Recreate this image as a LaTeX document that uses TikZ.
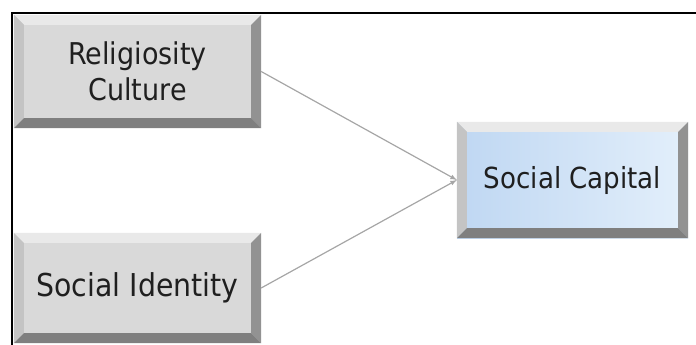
\documentclass[tikz,border=0pt]{standalone}
\usepackage{fontspec}
\setmainfont{DejaVu Sans Condensed}
\usepackage{tikz}
\usetikzlibrary{shapes,arrows,backgrounds,positioning,fit}

\definecolor{boxface}{HTML}{D9D9D9}
\definecolor{boxlight}{HTML}{E9E9E9}
\definecolor{boxside}{HTML}{C4C4C4}
\definecolor{boxdark}{HTML}{7F7F7F}
\definecolor{capleft}{HTML}{BFD7F2}
\definecolor{capright}{HTML}{E3EFFB}
\definecolor{linkgray}{HTML}{A6A6A6}

% bevel edges drawn over a named box
\newcommand{\bevel}[1]{%
  \fill[boxlight] (#1.north west) -- (#1.north east) -- ([shift={(-10,10)}]#1.north east) -- ([shift={(10,10)}]#1.north west) -- cycle;
  \fill[boxside] (#1.north west) -- ([shift={(10,10)}]#1.north west) -- ([shift={(10,-10)}]#1.south west) -- (#1.south west) -- cycle;
  \fill[boxdark!85] (#1.north east) -- ([shift={(-10,10)}]#1.north east) -- ([shift={(-10,-10)}]#1.south east) -- (#1.south east) -- cycle;
  \fill[boxdark] (#1.south west) -- ([shift={(10,-10)}]#1.south west) -- ([shift={(-10,-10)}]#1.south east) -- (#1.south east) -- cycle;
}

\begin{document}
\begin{tikzpicture}[x=1pt,y=-1pt]
			\tikzstyle{Box}		= [rectangle, inner sep=0pt, align=center, text=black!88]
			\tikzstyle{Grey}	= [fill=boxface]
			\tikzstyle{Blue}	= [left color=capleft, right color=capright]
			\tikzstyle{Link}	= [linkgray, line width=1.2pt, -latex]
			
			\useasboundingbox (0,0) rectangle (696,345);
			\draw [line width=2pt] (12,345) -- (12,13) -- (696,13);
			
			\node (rel) at (137.5,71.5) [Box][Grey][minimum width=247, minimum height=113] {};
			\node (soc) at (137.5,288) [Box][Grey][minimum width=247, minimum height=110] {};
			\node (cap) at (572.5,180) [Box][Blue][minimum width=231, minimum height=116] {};
			\bevel{rel}
			\bevel{soc}
			\bevel{cap}
			
			\node (relt) at (rel) [Box, font=\fontsize{30}{36}\selectfont] {Religiosity\\Culture};
			\node (soct) at (soc) [Box, font=\fontsize{31.5}{36}\selectfont] {Social Identity};
			\node (capt) at (cap) [Box, font=\fontsize{29}{36}\selectfont] {Social Capital};
			
			\draw (rel.east) to (cap.west) [Link];
			\draw (soc.east) to (cap.west) [Link];
		\end{tikzpicture}
\end{document}
